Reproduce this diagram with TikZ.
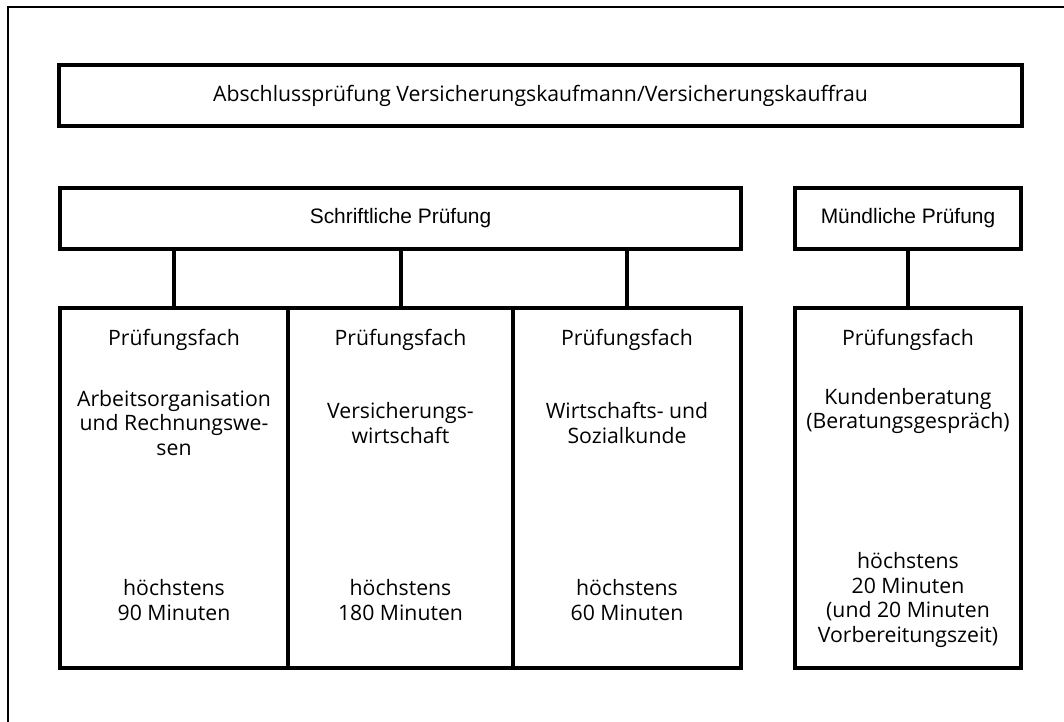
\documentclass[tikz,border=0pt]{standalone}
\usepackage{fontspec}
\setmainfont{Open Sans}
\newfontfamily\headfont{Liberation Sans}
\usetikzlibrary{positioning}

\begin{document}
\begin{tikzpicture}[
    x=1bp, y=-1bp,
    box/.style={draw, line width=4bp, minimum height=61bp, inner sep=0pt},
    fach/.style={draw, line width=4bp, minimum height=360bp, inner sep=0pt},
    txt/.style={align=center, inner sep=0pt, font=\fontsize{21.3}{25}\selectfont},
    head/.style={font=\headfont\fontsize{21}{25}\selectfont},
  ]
  \useasboundingbox (0,0) rectangle (1064,722);
  \draw[line width=2.5bp] (8,722) |- (1064,7);

  % Kopf
  \node[box, minimum width=962bp, txt] (titel) at (540.5,95.5)
    {Abschlussprüfung Versicherungskaufmann/Versicherungskauffrau};
  \node[box, minimum width=681bp, head] (schrift) at (400.5,218.5) {Schriftliche Prüfung};
  \node[box, minimum width=226bp, head] (muendl) at (908,218.5) {Mündliche Prüfung};

  % Prüfungsfächer
  \foreach \i/\x/\w in {1/174/228, 2/400.5/225, 3/627/228, 4/908/226}
    \node[fach, minimum width=\w bp] (f\i) at (\x,488) {};

  \foreach \i/\x in {1/174, 2/400.5, 3/627, 4/908}
    \node[txt] (p\i) at (\x,340) {Prüfungsfach};

  \node[txt] (n1) at (174,423) {Arbeitsorganisation\\und Rechnungswe-\\sen};
  \node[txt] (n2) at (400.5,423) {Versicherungs-\\wirtschaft};
  \node[txt] (n3) at (627,423) {Wirtschafts- und\\Sozialkunde};
  \node[txt] (n4) at (908,411) {Kundenberatung\\(Beratungsgespräch)};

  \node[txt] (z1) at (174,600) {höchstens\\90 Minuten};
  \node[txt] (z2) at (400.5,600) {höchstens\\180 Minuten};
  \node[txt] (z3) at (627,600) {höchstens\\60 Minuten};
  \node[txt] (z4) at (908,600) {höchstens\\20 Minuten\\(und 20 Minuten\\Vorbereitungszeit)};

  \foreach \i in {1,2,3}
    \draw[line width=4bp] (schrift.south -| f\i.north) -- (f\i.north);
  \draw[line width=4bp] (muendl) -- (f4);
\end{tikzpicture}
\end{document}
